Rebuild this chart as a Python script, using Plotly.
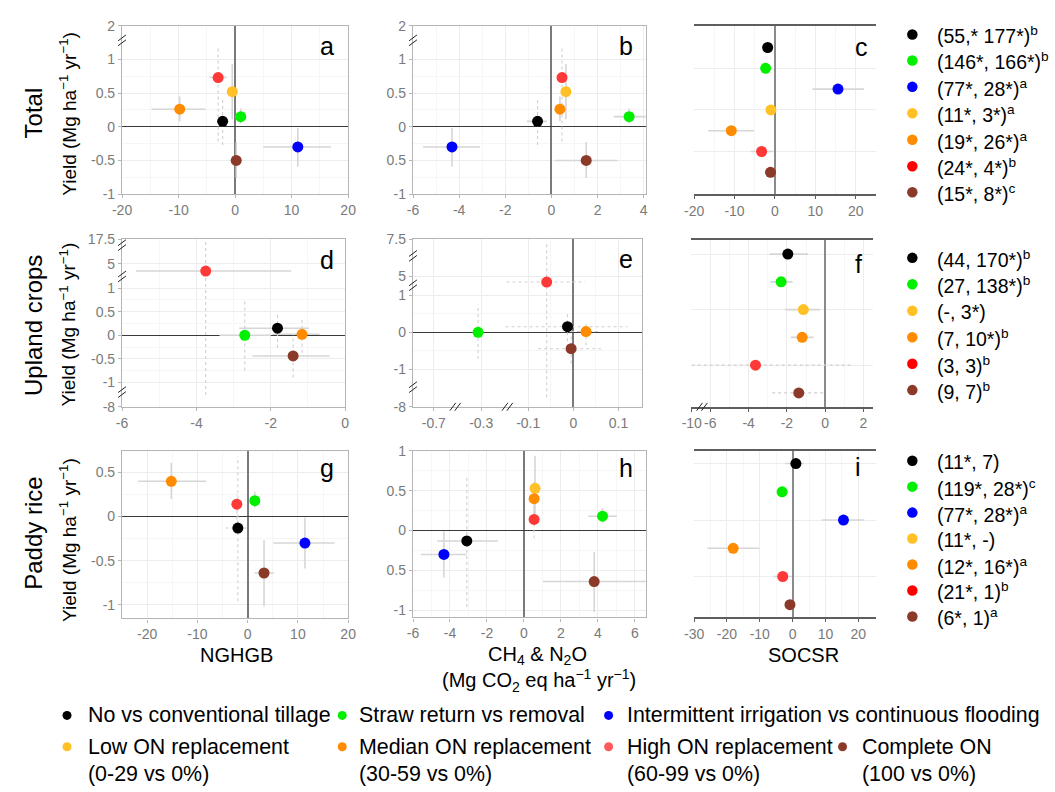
import plotly.graph_objects as go

W, H = 1055, 792
FONT = "Liberation Sans, Arial, sans-serif"

# ---------------- categories ----------------
CATS = ["No vs conventional tillage", "Straw return vs removal",
        "Intermittent irrigation vs continuous flooding",
        "Low ON replacement", "Median ON replacement",
        "High ON replacement", "Complete ON"]
CAT_SUB = [None, None, None, "(0-29 vs 0%)", "(30-59 vs 0%)", "(60-99 vs 0%)", "(100 vs 0%)"]
COLORS = ["#000000", "#00f000", "#0000ff", "#ffc125", "#ff8c00", "#ff3838", "#8b3a2a"]
KEY_COLORS = ["#000000", "#00f000", "#0000ff", "#ffc125", "#ff8c00", "#ff0000", "#8b3a2a"]
BOTTOM_KEY_COLORS = ["#000000", "#00f000", "#0000ff", "#ffc125", "#ff8c00", "#ff5a5a", "#8b3a2a"]

# ---------------- Total (row 1) ----------------
TOT_YIELD = [0.08, 0.15, -0.30, 0.52, 0.26, 0.73, -0.50]
TOT_YIELD_LO = [-0.27, 0.05, -0.59, 0.11, 0.08, -0.22, -0.76]
TOT_YIELD_HI = [0.43, 0.27, -0.02, 0.93, 0.45, 1.17, -0.23]
TOT_YIELD_DASH = [True, False, False, False, False, True, False]

A_NGHGB = [-2.2, 1.0, 11.1, -0.5, -9.8, -3.0, 0.2]
A_LO = [-3.0, 0.0, 5.0, -1.3, -14.8, -4.5, -0.8]
A_HI = [-1.4, 2.0, 17.0, 0.3, -5.2, -1.5, 1.2]

B_GHG = [-0.6, 3.37, -4.31, 0.63, 0.37, 0.46, 1.51]
B_LO = [-1.06, 2.7, -5.56, 0.45, 0.2, 0.3, 0.16]
B_HI = [-0.2, 4.09, -3.09, 0.8, 0.55, 0.6, 2.87]

C_SOC = [-1.8, -2.3, 15.6, -1.0, -10.8, -3.3, -1.1]
C_LO = [-2.5, -3.0, 9.3, -1.8, -16.5, -6.0, -1.8]
C_HI = [-1.1, -1.6, 22.0, -0.3, -5.2, -0.4, -0.4]
C_KEY = ["(55,* 177*)<sup>b</sup>", "(146*, 166*)<sup>b</sup>", "(77*, 28*)<sup>a</sup>",
         "(11*, 3*)<sup>a</sup>", "(19*, 26*)<sup>a</sup>", "(24*, 4*)<sup>b</sup>",
         "(15*, 8*)<sup>c</sup>"]

# ---------------- Upland crops (row 2) ----------------
UP_YIELD = [0.15, 0.0, None, None, 0.02, 3.8, -0.44]

D_NGHGB = [-1.82, -2.70, None, None, -1.16, -3.75, -1.40]
D_LO = [-2.85, -3.38, None, None, -1.96, -5.63, -2.49]
D_HI = [-0.98, -2.0, None, None, -0.69, -1.45, -0.42]
D_YLO = [-0.27, -0.75, None, None, -0.37, -4.6, -0.9]
D_YHI = [0.48, 0.77, None, None, 0.35, 17.5, 0.0]

E_GHG = [-0.013, -0.307, None, None, 0.028, -0.059, -0.005]
E_LO = [-0.15, None, None, None, -0.005, -0.148, -0.078]
E_HI = [0.12, None, None, None, 0.06, 0.026, 0.063]
E_YLO = [-0.24, -0.72, None, None, -0.35, -6.2, -0.84]
E_YHI = [0.54, 0.74, None, None, 0.3, 7.2, -0.1]

F_SOC = [-1.95, -2.3, None, -1.14, -1.2, -3.64, -1.38]
F_LO = [-2.9, -2.87, None, -2.1, -1.8, -10.0, -2.77]
F_HI = [-0.9, -1.7, None, -0.26, -0.6, 1.43, -0.1]
F_DASH = [False, False, False, False, False, True, True]
F_KEY = ["(44, 170*)<sup>b</sup>", "(27, 138*)<sup>b</sup>", None, "(-, 3*)",
         "(7, 10*)<sup>b</sup>", "(3, 3)<sup>b</sup>", "(9, 7)<sup>b</sup>"]

# ---------------- Paddy rice (row 3) ----------------
PAD_YIELD = [-0.13, 0.18, -0.30, 0.53, 0.40, 0.14, -0.64]
PAD_YIELD_LO = [-0.96, 0.10, -0.59, 0.12, 0.20, -0.10, -1.02]
PAD_YIELD_HI = [0.68, 0.28, -0.01, 0.94, 0.61, 0.25, -0.27]
PAD_YIELD_DASH = [True, False, False, False, False, True, False]

G_NGHGB = [-1.95, 1.43, 11.4, None, -15.2, -2.15, 3.26]
G_LO = [-4.4, 0.6, 5.1, None, -21.8, -3.0, 1.4]
G_HI = [0.0, 2.3, 17.3, None, -8.3, -1.3, 5.2]
G_DASH = [True, False, False, False, False, False, False]

H_GHG = [-3.09, 4.25, -4.33, 0.6, 0.55, 0.55, 3.8]
H_LO = [-4.69, 3.48, -5.58, 0.4, 0.35, 0.35, 1.03]
H_HI = [-1.4, 5.03, -3.09, 0.8, 0.75, 0.75, 6.6]

I_SOC = [1.0, -3.2, 15.5, None, -18.1, -3.0, -0.8]
I_LO = [-2.2, -4.5, 8.9, None, -26.0, -5.8, -2.0]
I_HI = [3.5, -1.9, 21.9, None, -10.1, -0.2, 0.4]
I_KEY = ["(11*, 7)", "(119*, 28*)<sup>c</sup>", "(77*, 28*)<sup>a</sup>", "(11*, -)",
         "(12*, 16*)<sup>a</sup>", "(21*, 1)<sup>b</sup>", "(6*, 1)<sup>a</sup>"]


# ---------------- broken-axis transforms ----------------
def ident(v):
    return v


def piecewise(points):
    def f(v):
        if v is None:
            return None
        for k in range(len(points) - 1):
            (r0, v0), (r1, v1) = points[k], points[k + 1]
            if v <= r1 or k == len(points) - 2:
                return v0 + (v - r0) * (v1 - v0) / (r1 - r0)
    return f


D_YF = piecewise([(-8, -1.52), (-1, -1), (1, 1), (5, 1.52), (17.5, 2.04)])
E_YF = piecewise([(-8, -2.0), (-1, -1), (1, 1), (5, 1.5), (7.5, 2.5)])


def E_XF(v):
    if v is None:
        return None
    if v >= -0.15:
        return v
    if v >= -0.45:
        return v + 0.096
    return v + 0.391


def F_XF(v):
    if v is None:
        return None
    return v if v >= -6 else -6 + (v + 6) * 0.2425


# ---------------- figure ----------------
fig = go.Figure()


def ax(n):
    return ("x" if n == 1 else f"x{n}"), ("y" if n == 1 else f"y{n}")


def add_panel(n, xs, ys, xlo=None, xhi=None, xdash=None, ylo=None, yhi=None, ydash=None,
              fx=ident, fy=ident):
    xa, ya = ax(n)
    segs = {False: ([], []), True: ([], [])}
    for i in range(len(xs)):
        if xs[i] is None or ys[i] is None:
            continue
        if xlo is not None and xlo[i] is not None:
            d = bool(xdash[i]) if xdash else False
            sx, sy = segs[d]
            sx += [fx(xlo[i]), fx(xhi[i]), None]
            sy += [fy(ys[i]), fy(ys[i]), None]
        if ylo is not None and ylo[i] is not None:
            d = bool(ydash[i]) if ydash else False
            sx, sy = segs[d]
            sx += [fx(xs[i]), fx(xs[i]), None]
            sy += [fy(ylo[i]), fy(yhi[i]), None]
    for d, (sx, sy) in segs.items():
        if not sx:
            continue
        fig.add_trace(go.Scatter(
            x=sx, y=sy, mode="lines", xaxis=xa, yaxis=ya, hoverinfo="skip", showlegend=False,
            line=dict(color="#cfcfcf" if d else "#d6d6d6", width=1.1 if d else 1.6,
                      dash="3px,3px" if d else "solid")))
    px, py, pc = [], [], []
    for i in range(len(xs)):
        if xs[i] is None or ys[i] is None:
            continue
        px.append(fx(xs[i]))
        py.append(fy(ys[i]))
        pc.append(COLORS[i])
    fig.add_trace(go.Scatter(x=px, y=py, mode="markers", xaxis=xa, yaxis=ya, showlegend=False,
                             marker=dict(size=11, color=pc, line=dict(width=0))))


def rows_of(vals):
    out, r = [], 0
    for v in vals:
        if v is None:
            out.append(None)
        else:
            out.append(r)
            r += 1
    return out


# row 1
add_panel(1, A_NGHGB, TOT_YIELD, A_LO, A_HI, None, TOT_YIELD_LO, TOT_YIELD_HI, TOT_YIELD_DASH)
add_panel(2, B_GHG, TOT_YIELD, B_LO, B_HI, None, TOT_YIELD_LO, TOT_YIELD_HI, TOT_YIELD_DASH)
add_panel(3, C_SOC, rows_of(C_SOC), C_LO, C_HI, None)
# row 2
add_panel(4, D_NGHGB, UP_YIELD, D_LO, D_HI, None, D_YLO, D_YHI, [True] * 7, fy=D_YF)
add_panel(5, E_GHG, UP_YIELD, E_LO, E_HI, [True] * 7, E_YLO, E_YHI, [True] * 7, fx=E_XF, fy=E_YF)
add_panel(6, F_SOC, rows_of(F_SOC), F_LO, F_HI, F_DASH, fx=F_XF)
# row 3
add_panel(7, G_NGHGB, PAD_YIELD, G_LO, G_HI, G_DASH, PAD_YIELD_LO, PAD_YIELD_HI, PAD_YIELD_DASH)
add_panel(8, H_GHG, PAD_YIELD, H_LO, H_HI, None, PAD_YIELD_LO, PAD_YIELD_HI, PAD_YIELD_DASH)
add_panel(9, I_SOC, rows_of(I_SOC), I_LO, I_HI, None)

# ---------------- axes ----------------
PANELS = {  # left, right, top, bottom in pixels
    1: (114, 344, 18, 190), 2: (410, 647, 18, 190), 3: (696, 881, 18, 190),
    4: (114, 341, 236, 407), 5: (410, 643, 236, 407), 6: (693, 878, 237, 407),
    7: (114, 344, 452, 623), 8: (410, 647, 452, 622), 9: (696, 881, 452, 622),
}

TICKFONT = dict(family=FONT, size=14, color="#7a7a7a")


def framed(n, xr, xt, xl, yr, yt, yl, xminor=None, yminor=None):
    l, r, t, b = PANELS[n]
    xa, ya = ax(n)
    xkey = "xaxis" if n == 1 else f"xaxis{n}"
    ykey = "yaxis" if n == 1 else f"yaxis{n}"
    common = dict(showline=True, mirror=True, linecolor="#b5b5b5", linewidth=1.3,
                  showgrid=True, gridcolor="#ededed", gridwidth=0.8,
                  ticks="outside", ticklen=3, tickcolor="#b5b5b5", tickfont=TICKFONT,
                  tickmode="array", fixedrange=True, layer="below traces", tickangle=0)
    fig.layout[xkey] = dict(common, domain=[l / W, r / W], range=xr, tickvals=xt, ticktext=xl,
                            anchor=ya, zeroline=True, zerolinecolor="#7a7a7a", zerolinewidth=1.6,
                            minor=dict(tickvals=xminor or [], showgrid=True, gridcolor="#f6f6f6",
                                       ticks=""))
    fig.layout[ykey] = dict(common, domain=[1 - b / H, 1 - t / H], range=yr, tickvals=yt,
                            ticktext=yl, anchor=xa, zeroline=True, zerolinecolor="#3a3a3a",
                            zerolinewidth=1.1,
                            minor=dict(tickvals=yminor or [], showgrid=True, gridcolor="#f6f6f6",
                                       ticks=""))


def forest(n, xr, xt, xl, yrange, grid_rows, xminor=None):
    l, r, t, b = PANELS[n]
    xa, ya = ax(n)
    xkey = "xaxis" if n == 1 else f"xaxis{n}"
    ykey = "yaxis" if n == 1 else f"yaxis{n}"
    fig.layout[xkey] = dict(domain=[l / W, r / W], range=xr, tickmode="array", tickvals=xt,
                            ticktext=xl, anchor=ya, showline=True, mirror=True,
                            linecolor="#5e5e5e", linewidth=1.6, ticks="outside", ticklen=3,
                            tickcolor="#5e5e5e", tickfont=TICKFONT, showgrid=True, tickangle=0,
                            gridcolor="#ededed", gridwidth=0.8, zeroline=True,
                            zerolinecolor="#8a8a8a", zerolinewidth=1.6, fixedrange=True,
                            minor=dict(tickvals=xminor or [], showgrid=True, gridcolor="#f6f6f6",
                                       ticks=""))
    fig.layout[ykey] = dict(domain=[1 - b / H, 1 - t / H], range=[yrange[1], yrange[0]],
                            anchor=xa, showline=False, zeroline=False, showticklabels=False,
                            ticks="", tickmode="array", tickvals=grid_rows, showgrid=True,
                            gridcolor="#ededed", gridwidth=0.8, fixedrange=True)


YT_TOT = [-1, -0.5, 0, 0.5, 1, 1.5]
framed(1, [-20, 20], [-20, -10, 0, 10, 20], ["-20", "-10", "0", "10", "20"],
       [-1, 1.5], YT_TOT, ["-1", "-0.5", "0", "0.5", "1", "2"],
       [-15, -5, 5, 15], [-0.75, -0.25, 0.25, 0.75])
framed(2, [-6, 4.1], [-6, -4, -2, 0, 2, 4], ["-6", "-4", "-2", "0", "2", "4"],
       [-1, 1.5], YT_TOT, ["-1", "0.5", "0", "0.5", "1", "2"],
       [-5, -3, -1, 1, 3], [-0.75, -0.25, 0.25, 0.75])
forest(3, [-20, 25], [-20, -10, 0, 10, 20], ["-20", "-10", "0", "10", "20"],
       (-1.05, 7.05), [1, 3, 5], [-15, -5, 5, 15])

framed(4, [-6, 0], [-6, -4, -2, 0], ["-6", "-4", "-2", "0"],
       [-1.52, 2.04], [-1.52, -1, -0.5, 0, 0.5, 1, 1.52, 2.04],
       ["-8", "-1", "-0.5", "0", "0.5", "1", "5", "17.5"],
       [-5, -3, -1], [-0.75, -0.25, 0.25, 0.75])
framed(5, [-0.355, 0.152], [E_XF(v) for v in [-0.7, -0.3, -0.1, 0, 0.1]],
       ["-0.7", "-0.3", "-0.1", "0", "0.1"],
       [-2.0, 2.5], [-2.0, -1, 0, 1, 1.5, 2.5], ["-8", "-1", "0", "1", "5", "7.5"],
       [-0.05, 0.05], [-0.5, 0.5])
forest(6, [-7.0, 2.5], [F_XF(v) for v in [-10, -6, -4, -2, 0, 2]],
       ["-10", "-6", "-4", "-2", "0", "2"], (-0.5, 5.5), [0, 2, 4], [-5, -3, -1, 1])

framed(7, [-25, 20], [-20, -10, 0, 10, 20], ["-20", "-10", "0", "10", "20"],
       [-1.155, 0.745], [-1, -0.5, 0, 0.5], ["-1", "-0.5", "0", "0.5"],
       [-15, -5, 5, 15], [-0.75, -0.25, 0.25])
framed(8, [-6, 6.6], [-6, -4, -2, 0, 2, 4, 6], ["-6", "-4", "-2", "0", "2", "4", "6"],
       [-1.09, 1.0], [-1, -0.5, 0, 0.5, 1], ["-1", "0.5", "0", "0.5", "1"],
       [-5, -3, -1, 1, 3, 5], [-0.75, -0.25, 0.25, 0.75])
forest(9, [-30, 25.4], [-30, -20, -10, 0, 10, 20], ["-30", "-20", "-10", "0", "10", "20"],
       (-0.45, 5.45), [0, 2, 4], [-25, -15, -5, 5, 15])

# ---------------- decorations ----------------
shapes = []
annotations = []


def P(x, y):
    return x / W, 1 - y / H


def ybreak(x, y):
    for dy in (-2.5, 2.5):
        x0, y0 = P(x - 4, y + 3 + dy)
        x1, y1 = P(x + 4, y - 3 + dy)
        shapes.append(dict(type="line", xref="paper", yref="paper", x0=x0, y0=y0, x1=x1, y1=y1,
                           line=dict(color="#222", width=1)))


def xbreak(x, y):
    for dx in (-2.5, 2.5):
        x0, y0 = P(x - 3 + dx, y + 4)
        x1, y1 = P(x + 3 + dx, y - 4)
        shapes.append(dict(type="line", xref="paper", yref="paper", x0=x0, y0=y0, x1=x1, y1=y1,
                           line=dict(color="#222", width=1)))


ybreak(114, 33)
ybreak(410, 33)
for yy in (242, 274, 392):
    ybreak(114, yy)
for yy in (253, 283, 387):
    ybreak(410, yy)
xbreak(453, 407)
xbreak(506, 407)
xbreak(704, 407)


def text(x, y, s, size, color="#000", anchor="center", angle=0):
    xp, yp = P(x, y)
    annotations.append(dict(xref="paper", yref="paper", x=xp, y=yp, text=s, showarrow=False,
                            xanchor=anchor, yanchor="middle", textangle=angle,
                            font=dict(family=FONT, size=size, color=color)))


def dot(x, y, d, color):
    xp, yp = P(x, y)
    shapes.append(dict(type="circle", xref="paper", yref="paper", xsizemode="pixel",
                       ysizemode="pixel", xanchor=xp, yanchor=yp, x0=-d / 2, x1=d / 2,
                       y0=-d / 2, y1=d / 2, fillcolor=color, line=dict(width=0)))


# panel letters
for s, (x, y) in zip("abcdefghi", [(323, 39), (627, 39), (866, 40), (323, 257), (627, 256),
                                   (863, 261), (323, 469), (627, 469), (863, 468)]):
    text(x, y, s, 25)

# row titles
for s, yc, yy in [("Total", 107, 108), ("Upland crops", 324, 323), ("Paddy rice", 536, 543)]:
    text(24, yc, s, 24, angle=-90)
    text(59, yy, "Yield (Mg ha<sup>\u22121</sup> yr<sup>\u22121</sup>)", 19, angle=-90)

# x titles
text(230, 660, "NGHGB", 20)
text(537, 661, "CH<sub>4</sub> & N<sub>2</sub>O", 20)
text(538, 686, "(Mg CO<sub>2</sub> eq ha<sup>\u22121</sup> yr<sup>\u22121</sup>)", 20)
text(807, 660, "SOCSR", 20)


# right-hand keys
def key_column(labels, ys):
    k = 0
    for i, lab in enumerate(labels):
        if lab is None:
            continue
        dot(918, ys[k], 10.5, KEY_COLORS[i])
        text(941, ys[k] + 1, lab, 19.5, anchor="left")
        k += 1


key_column(C_KEY, [27, 53.5, 80.5, 107.5, 134.5, 161.5, 188])
key_column(F_KEY, [255, 282, 309, 336, 363, 390])
key_column(I_KEY, [462, 488.5, 515, 541.5, 568, 594.5, 621])

# bottom key
BULLET_X = [58, 338, 609, 58, 338, 609, 847]
TEXT_X = [77, 353, 626, 77, 353, 626, 865]
ROW_Y = [722, 722, 722, 754, 754, 754, 754]
for i in range(len(CATS)):
    dot(BULLET_X[i], ROW_Y[i], 9, BOTTOM_KEY_COLORS[i])
    text(TEXT_X[i], ROW_Y[i], CATS[i], 21.4, anchor="left")
    if CAT_SUB[i]:
        text(TEXT_X[i], ROW_Y[i] + 28, CAT_SUB[i], 21.4, anchor="left")

fig.update_layout(width=W, height=H, margin=dict(l=0, r=0, t=0, b=0),
                  paper_bgcolor="white", plot_bgcolor="white", showlegend=False,
                  shapes=shapes, annotations=annotations,
                  font=dict(family=FONT))

fig.write_html("out.html")
